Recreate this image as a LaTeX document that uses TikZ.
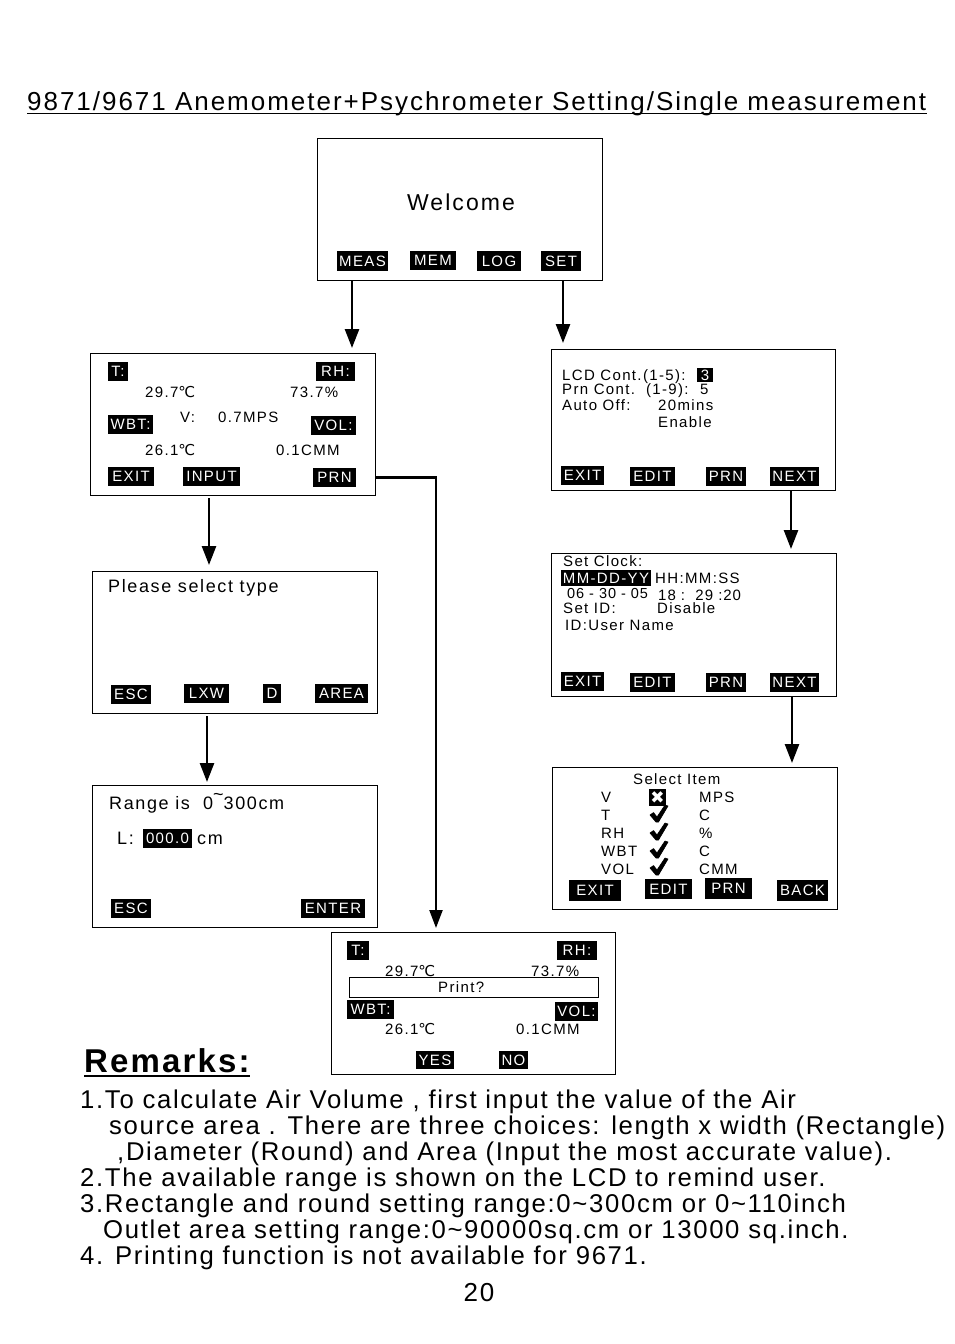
\documentclass[tikz,border=0pt]{standalone}
\usepackage{fontspec}
\setmainfont{Liberation Sans}[LetterSpace=9]
\newfontfamily\remfont{Liberation Sans}[LetterSpace=6.5]
\newfontfamily\titfont{Liberation Sans}[LetterSpace=7.6]
\newfontfamily\dvs{DejaVu Sans}
\usetikzlibrary{arrows.meta}
\newcommand\dC{{\dvs\char"2103}}
\tikzset{
 box/.style={draw, line width=1pt, inner sep=0, anchor=north west},
 lab/.style={fill=black, text=white, inner sep=0, font=\fontsize{15}{15}\selectfont},
 txt/.style={anchor=base west, inner sep=0, font=\fontsize{15}{15}\selectfont},
 big/.style={anchor=base west, inner sep=0, font=\fontsize{18}{18}\selectfont},
 rem/.style={anchor=base west, inner sep=0, font=\remfont\fontsize{25.7}{25.7}\selectfont},
 arr/.style={line width=2.6pt, -{Triangle[width=14pt,length=19pt]}},
 chk/.style={fill=black, draw=black, line width=0.6pt, line join=round},
}
\newcommand\boxat[5]{\node[box, minimum width={(#4-#2)*1pt}, minimum height={(#5-#3)*1pt}] (#1) at (#2,#3) {};}
\newcommand\lab[6]{\node[lab, minimum width={(#4-#2)*1pt}, minimum height={(#5-#3)*1pt}] (#1) at ({(#2+#4)/2},{(#3+#5)/2}) {#6};}
\newcommand\checkmk[1]{\filldraw[chk] (650,#1+1) -- (653.5,#1-1.5) -- (657,#1+3) -- (665,#1-9) -- (668,#1-8) -- (658.5,#1+8) -- (656,#1+8) -- cycle;}
\begin{document}
\begin{tikzpicture}[x=1pt,y=-1pt]
\useasboundingbox (0,0) rectangle (954,1344);
% title
\node[anchor=base west, inner sep=0, font=\titfont\fontsize{26}{26}\selectfont] (title) at (27,110) {9871/9671 Anemometer+Psychrometer Setting/Single measurement};
\coordinate (tu1) at (27,113.5);
\coordinate (tu2) at (927,113.5);
\draw[line width=1.3pt] (tu1) -- (tu2);
% welcome
\boxat{welcome}{317}{138}{602}{280}
\node[anchor=base, inner sep=0, font=\fontsize{23}{23}\selectfont] (wt) at (461,210) {Welcome};
\lab{wmeas}{337}{251}{388}{271}{MEAS}
\lab{wmem}{410}{251}{456}{270}{MEM}
\lab{wlog}{477}{251}{521}{271}{LOG}
\lab{wset}{541}{251}{581}{271}{SET}
% measurement box
\boxat{mbox}{90}{353}{375}{495}
\lab{mT}{108}{362}{128}{381}{T:}
\lab{mRH}{316}{362}{355}{381}{RH:}
\lab{mWBT}{108}{415}{153}{434}{WBT:}
\lab{mVOL}{311}{416}{356}{435}{VOL:}
\lab{mEXIT}{108}{467}{154}{486}{EXIT}
\lab{mINPUT}{183}{467}{240}{486}{INPUT}
\lab{mPRN}{313}{468}{356}{487}{PRN}
\node[txt] (m1) at (145,397) {29.7\dC};
\node[txt] (m2) at (290,397) {73.7\%};
\node[txt] (m3) at (180,422) {V:};
\node[txt] (m4) at (218,422) {0.7MPS};
\node[txt] (m5) at (145,455) {26.1\dC};
\node[txt] (m6) at (276,455) {0.1CMM};
% select type box
\boxat{sbox}{92}{571}{377}{713}
\node[big] (s1) at (108,592) {Please select type};
\lab{sESC}{111}{685}{151}{704}{ESC}
\lab{sLXW}{184}{684}{229}{703}{LXW}
\lab{sD}{263}{684}{281}{703}{D}
\lab{sAREA}{315}{684}{368}{703}{AREA}
% range box
\boxat{rbox}{92}{785}{377}{927}
\node[big] (r1) at (109,809) {Range is\ \ 0\raisebox{0.45em}{\textasciitilde}300cm};
\node[big] (r2) at (117,844) {L:};
\lab{r0}{143}{829}{192}{848}{000.0}
\node[big] (r3) at (197,844) {cm};
\lab{rESC}{111}{899}{151}{918}{ESC}
\lab{rENTER}{301}{899}{365}{918}{ENTER}
% settings 1
\boxat{st1}{551}{349}{835}{490}
\node[txt] (a1) at (562,380) {LCD Cont.(1-5):};
\lab{a3}{697}{368}{713}{382}{3}
\node[txt] (a2) at (562,394) {Prn Cont.\ \ (1-9):};
\node[txt] (a4) at (700,394) {5};
\node[txt] (a5) at (562,410) {Auto Off:};
\node[txt] (a6) at (658,410) {20mins};
\node[txt] (a7) at (658,427) {Enable};
\lab{aEXIT}{561}{466}{604}{485}{EXIT}
\lab{aEDIT}{630}{467}{675}{486}{EDIT}
\lab{aPRN}{706}{467}{746}{486}{PRN}
\lab{aNEXT}{770}{467}{819}{486}{NEXT}
% settings 2
\boxat{st2}{551}{553}{836}{696}
\node[txt] (b1) at (563,566) {Set Clock:};
\lab{b2}{561}{570}{651}{586}{MM-DD-YY}
\node[txt] (b3) at (655,583) {HH:MM:SS};
\node[txt, font=\remfont\fontsize{14.5}{14.5}\selectfont] (b4) at (567,598) {06 - 30 - 05};
\node[txt, font=\remfont\fontsize{15}{15}\selectfont] (b5) at (658,600) {18 :\ \ 29 :20};
\node[txt] (b6) at (563,613) {Set ID:};
\node[txt] (b7) at (657,613) {Disable};
\node[txt] (b8) at (565,630) {ID:User Name};
\lab{bEXIT}{561}{672}{604}{691}{EXIT}
\lab{bEDIT}{630}{673}{675}{692}{EDIT}
\lab{bPRN}{706}{673}{746}{692}{PRN}
\lab{bNEXT}{770}{673}{819}{692}{NEXT}
% settings 3
\boxat{st3}{552}{767}{837}{909}
\node[txt] (c0) at (633,784) {Select Item};
\node[txt] (c1) at (601,802) {V};
\node[txt] (c2) at (601,820) {T};
\node[txt] (c3) at (601,838) {RH};
\node[txt] (c4) at (601,856) {WBT};
\node[txt] (c5) at (601,874) {VOL};
\node[txt] (d1) at (699,802) {MPS};
\node[txt] (d2) at (699,820) {C};
\node[txt] (d3) at (699,838) {\%};
\node[txt] (d4) at (699,856) {C};
\node[txt] (d5) at (699,874) {CMM};
\node[fill=black, text=white, inner sep=0, minimum width=17pt, minimum height=17pt, font=\dvs\bfseries\fontsize{17}{17}\selectfont] (x1) at (657.5,797.5) {\char"2716};
\checkmk{814}
\checkmk{832}
\checkmk{850}
\checkmk{867}
\lab{cEXIT}{569}{880}{621}{901}{EXIT}
\lab{cEDIT}{645}{879}{692}{899}{EDIT}
\lab{cPRN}{705}{878}{752}{899}{PRN}
\lab{cBACK}{777}{880}{828}{901}{BACK}
% print box
\boxat{pbox}{331}{932}{615}{1074}
\lab{pT}{347}{941}{369}{960}{T:}
\lab{pRH}{557}{941}{597}{960}{RH:}
\node[txt] (p1) at (385,976) {29.7\dC};
\node[txt] (p2) at (531,976) {73.7\%};
\node[box, line width=0.9pt, minimum width=249pt, minimum height=20pt] (pq) at (349,977) {};
\node[txt] (pqt) at (438,992) {Print?};
\lab{pWBT}{347}{1000}{394}{1019}{WBT:}
\lab{pVOL}{555}{1002}{598}{1021}{VOL:}
\node[txt] (p3) at (385,1034) {26.1\dC};
\node[txt] (p4) at (516,1034) {0.1CMM};
\lab{pYES}{416}{1051}{454}{1069}{YES}
\lab{pNO}{499}{1051}{528}{1069}{NO}
% arrows
\coordinate (x352) at (352,0);
\coordinate (x563) at (563,0);
\coordinate (x209) at (209,0);
\coordinate (x207) at (207,0);
\coordinate (x436) at (436,0);
\coordinate (x791) at (791,0);
\coordinate (x792) at (792,0);
\draw[arr, shorten >=5pt] (x352 |- welcome.south) -- (x352 |- mbox.north);
\draw[arr, shorten >=6pt] (x563 |- welcome.south) -- (x563 |- st1.north);
\draw[arr, shorten >=6pt, shorten <=2pt] (x209 |- mbox.south) -- (x209 |- sbox.north);
\draw[arr, shorten >=3pt, shorten <=2pt] (x207 |- sbox.south) -- (x207 |- rbox.north);
\draw[arr, shorten >=4pt] (x791 |- st1.south) -- (x791 |- st2.north);
\draw[arr, shorten >=4pt] (x792 |- st2.south) -- (x792 |- st3.north);
\draw[line width=2.2pt, -{Triangle[width=13pt,length=18pt]}, shorten >=4pt] (mbox.east |- mPRN.center) -- (x436 |- mPRN.center) -- (x436 |- pbox.north);
% remarks
\node[anchor=base west, inner sep=0, font=\remfont\bfseries\fontsize{33}{33}\selectfont] (remt) at (84,1072) {Remarks:};
\coordinate (ru1) at (84,1076);
\coordinate (ru2) at (250,1076);
\draw[line width=1.6pt] (ru1) -- (ru2);
\node[rem] (l1) at (80,1108) {1.To calculate Air Volume , first input the value of the Air};
\node[rem] (l2) at (109,1134) {source area . There are three choices: length x width (Rectangle)};
\node[rem] (l3) at (117,1160) {,Diameter (Round) and Area (Input the most accurate value).};
\node[rem] (l4) at (80,1186) {2.The available range is shown on the LCD to remind user.};
\node[rem] (l5) at (80,1212) {3.Rectangle and round setting range:0\textasciitilde300cm or 0\textasciitilde110inch};
\node[rem] (l6) at (103,1238) {Outlet area setting range:0\textasciitilde90000sq.cm or 13000 sq.inch.};
\node[rem] (l7) at (80,1264) {4. Printing function is not available for 9671.};
\node[anchor=base, inner sep=0, font=\remfont\fontsize{26}{26}\selectfont] (pg) at (479,1301) {20};
\end{tikzpicture}
\end{document}
